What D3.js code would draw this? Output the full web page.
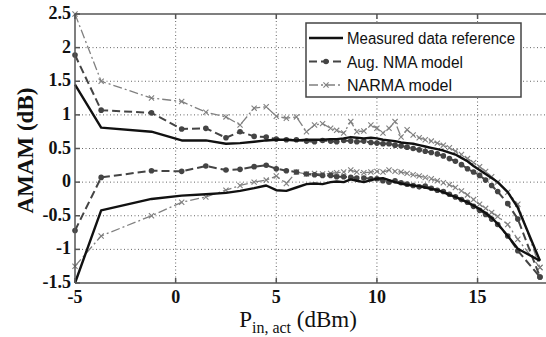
<!DOCTYPE html>
<html>
<head>
<meta charset="utf-8">
<script src="https://cdn.jsdelivr.net/npm/d3@7"></script>
<style>
  html, body { margin: 0; padding: 0; background: #fff; }
  svg { display: block; }
  .tick-label { font-family: "Liberation Serif", "Times New Roman", serif; font-weight: bold; font-size: 18px; fill: #111; }
  .legend text { font-family: "Liberation Sans", Arial, sans-serif; font-size: 16px; fill: #111; }
</style>
</head>
<body>
<div id="chart"></div>
<script>
// axis ticks
var xTicks = [-5, 0, 5, 10, 15]
var yTicks = [-1.5, -1, -0.5, 0, 0.5, 1, 1.5, 2, 2.5]

// input power samples (dBm), shared by all curves
var xs = [-5, -3.7, -1.2, 0.3, 1.5, 2.5, 3.2, 3.9, 4.5, 5, 5.5, 6, 6.5, 6.9, 7.3, 7.7, 8, 8.35, 8.7, 9,
  9.35, 9.7, 10, 10.3, 10.6, 10.9, 11.2, 11.5, 11.8, 12.1, 12.4, 12.7, 13, 13.3, 13.6, 13.9, 14.2, 14.5, 14.8, 15.1,
  15.4, 15.7, 16, 16.5, 17, 18.1]

// AM/AM (dB), upper and lower branch of each loop
var measuredUpper = [1.45, 0.81, 0.75, 0.62, 0.62, 0.57, 0.58, 0.6, 0.62, 0.63, 0.63, 0.62, 0.63, 0.63, 0.63, 0.64, 0.64, 0.65, 0.67, 0.66,
  0.65, 0.66, 0.65, 0.63, 0.62, 0.61, 0.59, 0.58, 0.57, 0.55, 0.53, 0.51, 0.49, 0.47, 0.44, 0.41, 0.36, 0.31, 0.24, 0.18,
  0.12, 0.06, 0.0, -0.15, -0.38, -1.17]
var measuredLower = [-1.5, -0.42, -0.25, -0.2, -0.18, -0.16, -0.13, -0.09, -0.05, -0.12, -0.13, -0.08, -0.03, -0.02, -0.03, 0.0, 0.01, 0.0, 0.04, 0.02,
  0.0, 0.03, 0.05, 0.06, 0.03, 0.0, -0.02, -0.04, -0.05, -0.06, -0.08, -0.1, -0.12, -0.15, -0.19, -0.22, -0.26, -0.3, -0.35, -0.4,
  -0.46, -0.53, -0.62, -0.8, -0.99, -1.17]
var augUpper = [1.89, 1.07, 1.03, 0.79, 0.8, 0.66, 0.75, 0.68, 0.67, 0.64, 0.63, 0.63, 0.61, 0.6, 0.62, 0.61, 0.6, 0.62, 0.61, 0.6,
  0.61, 0.59, 0.58, 0.57, 0.57, 0.55, 0.54, 0.52, 0.5, 0.48, 0.46, 0.44, 0.42, 0.39, 0.35, 0.31, 0.26, 0.2, 0.15, 0.1,
  0.03, -0.05, -0.14, -0.32, -0.55, -1.41]
var augLower = [-0.72, 0.07, 0.17, 0.16, 0.24, 0.18, 0.19, 0.23, 0.25, 0.2, 0.17, 0.15, 0.12, 0.11, 0.1, 0.1, 0.08, 0.08, 0.07, 0.06,
  0.06, 0.05, 0.05, 0.02, 0.0, 0.02, -0.01, -0.03, -0.05, -0.07, -0.06, -0.09, -0.12, -0.14, -0.18, -0.22, -0.26, -0.3, -0.36, -0.42,
  -0.48, -0.55, -0.63, -0.8, -1.02, -1.41]
var narmaUpper = [2.5, 1.5, 1.25, 1.2, 1.04, 0.97, 0.85, 1.1, 1.12, 0.98, 0.95, 0.97, 0.75, 0.85, 0.87, 0.8, 0.77, 0.73, 0.9, 0.75,
  0.76, 0.85, 0.8, 0.73, 0.8, 0.9, 0.67, 0.78, 0.7, 0.66, 0.63, 0.61, 0.58, 0.55, 0.51, 0.46, 0.41, 0.35, 0.29, 0.23,
  0.16, 0.08, 0.0, -0.15, -0.33, -1.27]
var narmaLower = [-1.25, -0.8, -0.5, -0.3, -0.22, -0.12, -0.05, 0.0, 0.03, 0.09, -0.02, 0.15, 0.12, 0.13, 0.12, 0.13, 0.14, 0.15, 0.18, 0.15,
  0.14, 0.15, 0.16, 0.15, 0.18, 0.16, 0.15, 0.13, 0.11, 0.09, 0.07, 0.05, 0.02, -0.01, -0.04, -0.08, -0.13, -0.19, -0.26, -0.33,
  -0.39, -0.45, -0.51, -0.63, -0.85, -1.27]

var legendLabels = ['Measured data reference', 'Aug. NMA model', 'NARMA model']

var width = 546, height = 337
var x = d3.scaleLinear().domain([-5, 18.4]).range([75, 546])
var y = d3.scaleLinear().domain([-1.5, 2.5]).range([283, 14])

var svg = d3.select('#chart').append('svg')
  .attr('width', width)
  .attr('height', height)

// dotted grid
svg.append('g')
  .selectAll('line.gx').data(xTicks.slice(1)).enter().append('line')
  .attr('x1', function(d) { return x(d) }).attr('x2', function(d) { return x(d) })
  .attr('y1', y(2.5)).attr('y2', y(-1.5))
  .attr('stroke', '#666').attr('stroke-width', 1).attr('stroke-dasharray', '1,2.5')
svg.append('g')
  .selectAll('line.gy').data(yTicks.slice(1, -1)).enter().append('line')
  .attr('x1', x(-5)).attr('x2', width)
  .attr('y1', function(d) { return y(d) }).attr('y2', function(d) { return y(d) })
  .attr('stroke', '#666').attr('stroke-width', 1).attr('stroke-dasharray', '1,2.5')

function branch(vals) {
  return vals.map(function(v, i) { return [xs[i], v] })
}

var line = d3.line()
  .x(function(d) { return x(d[0]) })
  .y(function(d) { return y(d[1]) })

var series = [
  { name: legendLabels[0], branches: [measuredUpper, measuredLower], color: '#111', width: 2.4, dash: null, marker: null },
  { name: legendLabels[1], branches: [augUpper, augLower], color: '#444', width: 2, dash: '8,4', marker: 'dot' },
  { name: legendLabels[2], branches: [narmaUpper, narmaLower], color: '#808080', width: 1.3, dash: '9,3,2,3', marker: 'x' }
]

function drawMarker(g, kind, color, cx, cy) {
  if (kind === 'dot') {
    g.append('circle').attr('cx', cx).attr('cy', cy).attr('r', 2.8).attr('fill', color)
  } else if (kind === 'x') {
    var s = 2.6
    g.append('path')
      .attr('d', 'M' + (cx - s) + ',' + (cy - s) + 'L' + (cx + s) + ',' + (cy + s) +
        'M' + (cx - s) + ',' + (cy + s) + 'L' + (cx + s) + ',' + (cy - s))
      .attr('stroke', color).attr('stroke-width', 1.1).attr('fill', 'none')
  }
}

// draw NARMA first, then Aug, then measured on top
series.slice().reverse().forEach(function(s) {
  var g = svg.append('g')
  s.branches.forEach(function(vals) {
    var pts = branch(vals)
    g.append('path')
      .attr('d', line(pts))
      .attr('fill', 'none')
      .attr('stroke', s.color)
      .attr('stroke-width', s.width)
      .attr('stroke-dasharray', s.dash)
      .attr('stroke-linejoin', 'round')
    if (s.marker) {
      pts.forEach(function(p) { drawMarker(g, s.marker, s.color, x(p[0]), y(p[1])) })
    }
  })
})

// frame + inward ticks
var frame = svg.append('g').attr('stroke', '#555').attr('stroke-width', 1.5)
frame.append('line').attr('x1', x(-5)).attr('x2', width).attr('y1', y(2.5)).attr('y2', y(2.5))
frame.append('line').attr('x1', x(-5)).attr('x2', width).attr('y1', y(-1.5)).attr('y2', y(-1.5))
frame.append('line').attr('x1', x(-5)).attr('x2', x(-5)).attr('y1', y(2.5)).attr('y2', y(-1.5))
xTicks.forEach(function(t) {
  frame.append('line').attr('x1', x(t)).attr('x2', x(t)).attr('y1', y(-1.5)).attr('y2', y(-1.5) - 5)
  frame.append('line').attr('x1', x(t)).attr('x2', x(t)).attr('y1', y(2.5)).attr('y2', y(2.5) + 5)
})
yTicks.forEach(function(t) {
  frame.append('line').attr('x1', x(-5)).attr('x2', x(-5) + 5).attr('y1', y(t)).attr('y2', y(t))
})

// tick labels
svg.append('g').selectAll('text').data(yTicks).enter().append('text')
  .attr('class', 'tick-label')
  .attr('x', x(-5) - 4)
  .attr('y', function(d) { return y(d) + 5 })
  .attr('text-anchor', 'end')
  .text(function(d) { return String(d) })
svg.append('g').selectAll('text').data(xTicks).enter().append('text')
  .attr('class', 'tick-label')
  .attr('x', function(d) { return x(d) })
  .attr('y', 303)
  .attr('text-anchor', 'middle')
  .text(function(d) { return String(d) })

// axis titles
svg.append('text')
  .attr('transform', 'translate(33,' + (y(0.5) + 2) + ') rotate(-90)')
  .attr('text-anchor', 'middle')
  .style('font-family', '"Liberation Serif", "Times New Roman", serif')
  .style('font-weight', 'bold')
  .style('font-size', '23px')
  .attr('fill', '#111')
  .text('AMAM (dB)')

var xl = svg.append('text')
  .attr('x', 298).attr('y', 327)
  .attr('text-anchor', 'middle')
  .style('font-family', '"Liberation Serif", "Times New Roman", serif')
  .style('font-size', '23px')
  .attr('fill', '#111')
xl.append('tspan').text('P')
xl.append('tspan').attr('dy', 6).style('font-size', '16px').text('in, act')
xl.append('tspan').attr('dy', -6).text(' (dBm)')

// legend
var legend = svg.append('g').attr('class', 'legend')
legend.append('rect')
  .attr('x', 306).attr('y', 23).attr('width', 215).attr('height', 74)
  .attr('fill', '#fff').attr('stroke', '#444').attr('stroke-width', 1.5)
var legendWidths = [168, 116, 105]
series.forEach(function(s, i) {
  var cy = 38 + i * 23.5
  var g = legend.append('g')
  g.append('line')
    .attr('x1', 309).attr('x2', 343).attr('y1', cy).attr('y2', cy)
    .attr('stroke', s.color).attr('stroke-width', s.width)
    .attr('stroke-dasharray', s.dash)
  if (s.marker) drawMarker(g, s.marker, s.color, 326, cy)
  g.append('text')
    .attr('x', 347).attr('y', cy + 6)
    .attr('textLength', legendWidths[i])
    .attr('lengthAdjust', 'spacingAndGlyphs')
    .text(s.name)
})
</script>
</body>
</html>
